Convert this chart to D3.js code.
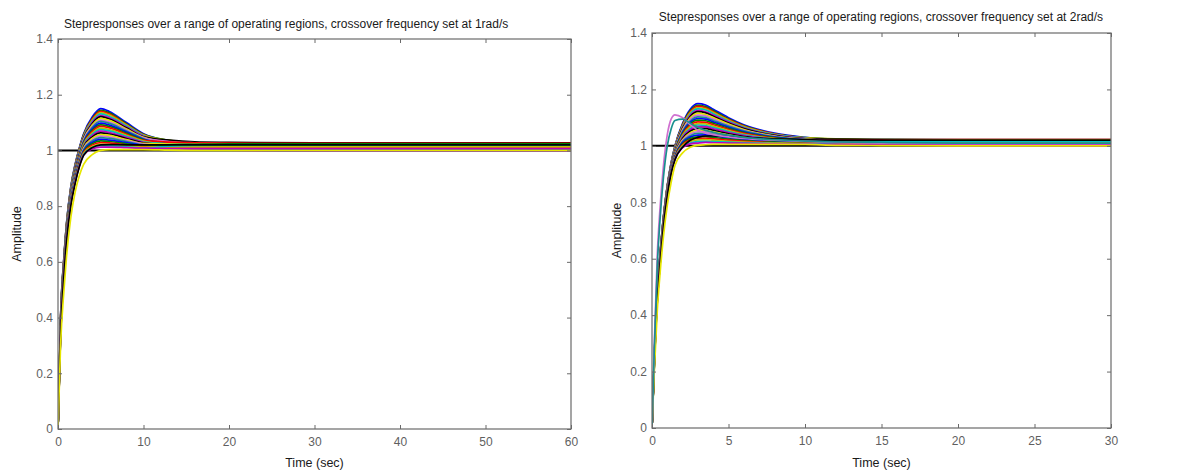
<!DOCTYPE html>
<html>
<head>
<meta charset="utf-8">
<script src="https://cdn.jsdelivr.net/npm/d3@7"></script>
<style>
  body { margin: 0; background: #fff; }
  svg { display: block; font-family: "Liberation Sans", Arial, sans-serif; }
</style>
</head>
<body>
<div id="chart"></div>
<script>
// ---- data ----
// left panel: crossover frequency 1 rad/s, sample times (sec)
var timeLeft = [0, 0.3, 0.7, 1, 1.5, 2, 2.5, 3, 4, 5, 6, 8, 10, 13, 16, 20, 30, 45, 60];
var stepsLeft = [
  [0, .400, .620, .740, .870, .950, 1.010, 1.060, 1.120, 1.150, 1.140, 1.100, 1.060, 1.034, 1.022, 1.015, 1.012, 1.012, 1.012],
  [0, .397, .617, .737, .867, .947, 1.007, 1.057, 1.115, 1.144, 1.135, 1.096, 1.058, 1.036, 1.026, 1.021, 1.018, 1.018, 1.018],
  [0, .395, .615, .735, .865, .945, 1.005, 1.054, 1.112, 1.140, 1.131, 1.093, 1.056, 1.030, 1.018, 1.011, 1.008, 1.008, 1.008],
  [0, .393, .613, .733, .863, .943, 1.003, 1.052, 1.108, 1.136, 1.127, 1.091, 1.055, 1.036, 1.027, 1.022, 1.020, 1.020, 1.020],
  [0, .391, .611, .731, .861, .941, 1.001, 1.050, 1.104, 1.131, 1.122, 1.088, 1.053, 1.026, 1.014, 1.007, 1.004, 1.004, 1.004],
  [0, .388, .608, .728, .858, .938, .998, 1.046, 1.100, 1.125, 1.117, 1.084, 1.051, 1.031, 1.022, 1.018, 1.015, 1.015, 1.015],
  [0, .386, .606, .726, .856, .936, .996, 1.044, 1.096, 1.121, 1.113, 1.081, 1.049, 1.037, 1.031, 1.029, 1.027, 1.027, 1.027],
  [0, .383, .603, .723, .853, .933, .993, 1.041, 1.091, 1.115, 1.108, 1.077, 1.047, 1.027, 1.017, 1.013, 1.010, 1.010, 1.010],
  [0, .380, .600, .720, .850, .930, .990, 1.038, 1.086, 1.109, 1.102, 1.073, 1.045, 1.032, 1.027, 1.024, 1.022, 1.022, 1.022],
  [0, .378, .598, .718, .848, .928, .988, 1.034, 1.082, 1.104, 1.097, 1.070, 1.042, 1.019, 1.009, 1.003, .999, .999, .999],
  [0, .375, .595, .715, .845, .925, .985, 1.031, 1.077, 1.098, 1.091, 1.066, 1.040, 1.027, 1.021, 1.018, 1.016, 1.016, 1.016],
  [0, .372, .592, .712, .842, .922, .982, 1.028, 1.072, 1.092, 1.086, 1.062, 1.038, 1.024, 1.017, 1.014, 1.012, 1.012, 1.012],
  [0, .369, .589, .709, .839, .919, .979, 1.025, 1.067, 1.086, 1.081, 1.058, 1.036, 1.030, 1.027, 1.026, 1.025, 1.025, 1.025],
  [0, .366, .586, .706, .836, .916, .976, 1.022, 1.062, 1.080, 1.075, 1.054, 1.034, 1.019, 1.012, 1.008, 1.006, 1.006, 1.006],
  [0, .364, .584, .704, .834, .914, .974, 1.018, 1.058, 1.075, 1.070, 1.051, 1.031, 1.024, 1.021, 1.020, 1.019, 1.019, 1.019],
  [0, .361, .581, .701, .831, .911, .971, 1.015, 1.053, 1.069, 1.064, 1.047, 1.029, 1.012, 1.005, 1.001, .999, .999, .999],
  [0, .358, .578, .698, .828, .908, .968, 1.012, 1.048, 1.063, 1.059, 1.043, 1.027, 1.020, 1.017, 1.015, 1.014, 1.014, 1.014],
  [0, .355, .575, .695, .825, .905, .965, 1.009, 1.043, 1.057, 1.054, 1.039, 1.025, 1.023, 1.022, 1.021, 1.021, 1.021, 1.021],
  [0, .352, .572, .692, .822, .902, .962, 1.006, 1.038, 1.051, 1.048, 1.035, 1.023, 1.015, 1.012, 1.010, 1.009, 1.009, 1.009],
  [0, .350, .570, .690, .820, .900, .960, 1.002, 1.034, 1.046, 1.043, 1.032, 1.020, 1.018, 1.018, 1.017, 1.017, 1.017, 1.017],
  [0, .347, .567, .687, .817, .897, .957, .999, 1.029, 1.040, 1.037, 1.028, 1.018, 1.010, 1.006, 1.004, 1.003, 1.003, 1.003],
  [0, .344, .564, .684, .814, .894, .954, .996, 1.024, 1.034, 1.032, 1.024, 1.016, 1.020, 1.022, 1.024, 1.024, 1.024, 1.024],
  [0, .341, .561, .681, .811, .891, .951, .993, 1.019, 1.028, 1.027, 1.020, 1.014, 1.012, 1.012, 1.011, 1.011, 1.011, 1.011],
  [0, .338, .558, .678, .808, .888, .948, .990, 1.014, 1.022, 1.021, 1.016, 1.012, 1.013, 1.013, 1.013, 1.013, 1.013, 1.013],
  [0, .336, .556, .676, .806, .886, .946, .986, 1.010, 1.017, 1.016, 1.013, 1.009, 1.015, 1.018, 1.019, 1.020, 1.020, 1.020],
  [0, .334, .554, .674, .804, .884, .944, .984, 1.006, 1.012, 1.012, 1.010, 1.008, 1.007, 1.007, 1.007, 1.007, 1.007, 1.007],
  [0, .331, .551, .671, .801, .881, .941, .982, 1.010, 1.020, 1.021, 1.020, 1.020, 1.020, 1.020, 1.020, 1.020, 1.020, 1.020],
  [0, .300, .500, .620, .760, .850, .910, .950, .985, 1.000, 1.003, 1.003, 1.003, 1.001, 1.000, 1.000, 1.000, 1.000, 1.000]
];

// right panel: crossover frequency 2 rad/s
var timeRight = [0, 0.15, 0.35, 0.5, 0.75, 1, 1.25, 1.5, 2, 2.5, 3, 3.5, 4, 5, 6, 8, 10, 12, 15, 20, 30];
var stepsRight = [
  [0, .250, .500, .600, .750, .860, .940, 1.000, 1.080, 1.130, 1.150, 1.145, 1.130, 1.100, 1.075, 1.045, 1.030, 1.022, 1.016, 1.012, 1.010],
  [0, .249, .498, .598, .748, .858, .938, .998, 1.076, 1.125, 1.144, 1.139, 1.125, 1.096, 1.072, 1.043, 1.029, 1.024, 1.020, 1.017, 1.016],
  [0, .248, .497, .597, .747, .857, .937, .997, 1.074, 1.121, 1.140, 1.135, 1.121, 1.093, 1.070, 1.042, 1.028, 1.019, 1.012, 1.007, 1.005],
  [0, .247, .495, .596, .746, .856, .936, .995, 1.071, 1.117, 1.135, 1.131, 1.118, 1.091, 1.068, 1.041, 1.028, 1.025, 1.022, 1.021, 1.020],
  [0, .246, .494, .595, .745, .855, .935, .994, 1.068, 1.113, 1.131, 1.127, 1.114, 1.088, 1.066, 1.040, 1.027, 1.016, 1.008, 1.001, .999],
  [0, .245, .492, .593, .743, .853, .933, .992, 1.065, 1.108, 1.125, 1.121, 1.109, 1.084, 1.063, 1.038, 1.026, 1.020, 1.016, 1.013, 1.012],
  [0, .244, .490, .592, .742, .852, .932, .990, 1.062, 1.104, 1.121, 1.117, 1.105, 1.081, 1.061, 1.037, 1.025, 1.024, 1.023, 1.022, 1.022],
  [0, .243, .488, .590, .740, .850, .930, .988, 1.058, 1.099, 1.115, 1.111, 1.100, 1.077, 1.058, 1.035, 1.024, 1.018, 1.013, 1.009, 1.008],
  [0, .242, .486, .589, .739, .849, .929, .986, 1.055, 1.094, 1.109, 1.106, 1.095, 1.073, 1.055, 1.034, 1.023, 1.021, 1.020, 1.018, 1.018],
  [0, .240, .484, .587, .737, .847, .927, .984, 1.051, 1.088, 1.103, 1.100, 1.090, 1.070, 1.053, 1.032, 1.022, 1.014, 1.009, 1.005, 1.003],
  [0, .239, .482, .586, .736, .846, .926, .982, 1.048, 1.083, 1.097, 1.095, 1.085, 1.066, 1.050, 1.031, 1.021, 1.018, 1.016, 1.015, 1.014],
  [0, .238, .480, .584, .734, .844, .924, .980, 1.044, 1.078, 1.091, 1.089, 1.080, 1.062, 1.047, 1.029, 1.020, 1.016, 1.013, 1.011, 1.010],
  [0, .237, .478, .582, .732, .842, .922, .978, 1.040, 1.073, 1.085, 1.083, 1.075, 1.058, 1.044, 1.027, 1.019, 1.020, 1.021, 1.022, 1.022],
  [0, .236, .476, .581, .731, .841, .921, .976, 1.037, 1.068, 1.079, 1.078, 1.070, 1.054, 1.041, 1.026, 1.018, 1.013, 1.010, 1.007, 1.006],
  [0, .234, .474, .579, .729, .839, .919, .974, 1.033, 1.062, 1.074, 1.072, 1.065, 1.051, 1.039, 1.024, 1.017, 1.017, 1.016, 1.016, 1.016],
  [0, .233, .472, .578, .728, .838, .918, .972, 1.030, 1.057, 1.068, 1.067, 1.060, 1.047, 1.036, 1.023, 1.016, 1.009, 1.004, 1.000, .999],
  [0, .232, .470, .576, .726, .836, .916, .970, 1.026, 1.052, 1.062, 1.061, 1.055, 1.043, 1.033, 1.021, 1.015, 1.014, 1.013, 1.012, 1.012],
  [0, .231, .468, .574, .724, .834, .914, .968, 1.022, 1.047, 1.056, 1.055, 1.050, 1.039, 1.030, 1.019, 1.014, 1.016, 1.018, 1.020, 1.020],
  [0, .230, .466, .573, .723, .833, .913, .966, 1.019, 1.042, 1.050, 1.050, 1.045, 1.035, 1.027, 1.018, 1.013, 1.011, 1.010, 1.008, 1.008],
  [0, .228, .464, .571, .721, .831, .911, .964, 1.015, 1.036, 1.044, 1.044, 1.040, 1.032, 1.025, 1.016, 1.012, 1.013, 1.014, 1.015, 1.015],
  [0, .227, .462, .570, .720, .830, .910, .962, 1.012, 1.031, 1.038, 1.039, 1.035, 1.028, 1.022, 1.015, 1.011, 1.007, 1.005, 1.003, 1.002],
  [0, .226, .460, .568, .718, .828, .908, .960, 1.008, 1.026, 1.032, 1.033, 1.030, 1.024, 1.019, 1.013, 1.010, 1.013, 1.016, 1.017, 1.018],
  [0, .225, .458, .566, .716, .826, .906, .958, 1.004, 1.021, 1.027, 1.027, 1.025, 1.020, 1.016, 1.011, 1.009, 1.010, 1.010, 1.010, 1.010],
  [0, .224, .456, .565, .715, .825, .905, .956, 1.001, 1.016, 1.021, 1.022, 1.020, 1.016, 1.013, 1.010, 1.008, 1.010, 1.010, 1.011, 1.011],
  [0, .222, .454, .563, .713, .823, .903, .954, .997, 1.010, 1.015, 1.016, 1.015, 1.013, 1.011, 1.008, 1.007, 1.011, 1.014, 1.016, 1.016],
  [0, .222, .452, .562, .712, .822, .902, .952, .994, 1.007, 1.010, 1.012, 1.011, 1.010, 1.009, 1.007, 1.006, 1.005, 1.005, 1.005, 1.005],
  [0, .220, .451, .561, .711, .821, .901, .951, .995, 1.020, 1.030, 1.035, 1.035, 1.034, 1.030, 1.025, 1.022, 1.020, 1.020, 1.020, 1.020],
  [0, .200, .420, .530, .680, .790, .870, .930, .975, .995, 1.002, 1.004, 1.005, 1.005, 1.005, 1.005, 1.005, 1.002, 1.001, 1.000, 1.000],
  [0, .300, .620, .760, .930, 1.040, 1.095, 1.110, 1.100, 1.075, 1.055, 1.045, 1.040, 1.032, 1.026, 1.020, 1.016, 1.013, 1.010, 1.008, 1.008],
  [0, .280, .580, .720, .890, 1.000, 1.060, 1.090, 1.095, 1.080, 1.065, 1.055, 1.048, 1.038, 1.030, 1.022, 1.017, 1.014, 1.012, 1.010, 1.010]
];

var ampTicks = [0, 0.2, 0.4, 0.6, 0.8, 1, 1.2, 1.4];
var timeTicksLeft = [0, 10, 20, 30, 40, 50, 60];
var timeTicksRight = [0, 5, 10, 15, 20, 25, 30];
var setpoint = 1;

var titleLeft = "Stepresponses over a range of operating regions, crossover frequency set at 1rad/s";
var titleRight = "Stepresponses over a range of operating regions, crossover frequency set at 2rad/s";

// line colours cycle like the old MATLAB plot order
var palette = ["#0000ff", "#008000", "#ff0000", "#bfbf00", "#00bfbf", "#bf00bf", "#000000", "#e6e600", "#d070d0", "#1a8f8f"];

var svgWidth = 1193, svgHeight = 473;
var svg = d3.select("#chart").append("svg")
  .attr("width", svgWidth)
  .attr("height", svgHeight);

function drawPanel(opt) {
  var x = d3.scaleLinear().domain([0, opt.tMax]).range([opt.left, opt.right]);
  var y = d3.scaleLinear().domain([0, 1.4]).range([opt.bottom, opt.top]);
  var g = svg.append("g");

  g.append("clipPath").attr("id", opt.id)
    .append("rect")
    .attr("x", opt.left).attr("y", opt.top)
    .attr("width", opt.right - opt.left).attr("height", opt.bottom - opt.top);

  var plot = g.append("g").attr("clip-path", "url(#" + opt.id + ")");

  // setpoint line under the responses
  plot.append("line")
    .attr("x1", x(0)).attr("x2", x(opt.tMax))
    .attr("y1", y(setpoint)).attr("y2", y(setpoint))
    .style("stroke", "#000")
    .style("stroke-width", 2);

  var line = d3.line()
    .x(function(d) { return x(d[0]); })
    .y(function(d) { return y(d[1]); })
    .curve(d3.curveMonotoneX);

  plot.selectAll("path.step")
    .data(opt.steps)
    .enter()
    .append("path")
    .attr("class", "step")
    .attr("d", function(row) { return line(row.map(function(v, i) { return [opt.times[i], v]; })); })
    .style("fill", "none")
    .style("stroke", function(d, i) { return palette[i % palette.length]; })
    .style("stroke-width", 1.7);

  // axes, ticks pointing inward on all four sides
  var axisColor = "#6a6a6a";
  var axes = [
    { a: d3.axisBottom(x).tickValues(opt.xTicks).tickFormat(d3.format("d")).tickPadding(8), t: "translate(0," + opt.bottom + ")" },
    { a: d3.axisTop(x).tickValues(opt.xTicks).tickFormat(""), t: "translate(0," + opt.top + ")" },
    { a: d3.axisLeft(y).tickValues(ampTicks).tickFormat(d3.format("~g")).tickPadding(5), t: "translate(" + opt.left + ",0)" },
    { a: d3.axisRight(y).tickValues(ampTicks).tickFormat(""), t: "translate(" + opt.right + ",0)" }
  ];
  axes.forEach(function(ax) {
    var ag = g.append("g")
      .attr("transform", ax.t)
      .call(ax.a.tickSizeInner(-4).tickSizeOuter(0));
    ag.select(".domain").remove();
    ag.selectAll("line").style("stroke", axisColor);
    ag.selectAll("text")
      .style("fill", "#5f5f5f")
      .style("font-size", "12px")
      .style("font-family", "Liberation Sans, Arial, sans-serif");
  });

  g.append("rect")
    .attr("x", opt.left).attr("y", opt.top)
    .attr("width", opt.right - opt.left).attr("height", opt.bottom - opt.top)
    .style("fill", "none")
    .style("stroke", axisColor)
    .style("stroke-width", 1.2);

  g.append("text")
    .attr("x", opt.titleX)
    .attr("y", opt.titleY)
    .attr("text-anchor", opt.titleAnchor)
    .style("font-size", "12px")
    .style("fill", "#1a1a1a")
    .text(opt.title);

  g.append("text")
    .attr("x", (opt.left + opt.right) / 2)
    .attr("y", 467)
    .attr("text-anchor", "middle")
    .style("font-size", "12.5px")
    .style("fill", "#1a1a1a")
    .text("Time (sec)");

  g.append("text")
    .attr("transform", "translate(" + opt.ampX + "," + ((opt.top + opt.bottom) / 2) + ") rotate(-90)")
    .attr("text-anchor", "middle")
    .style("font-size", "12.5px")
    .style("fill", "#1a1a1a")
    .text("Amplitude");
}

drawPanel({
  id: "clipLeft", times: timeLeft, steps: stepsLeft, tMax: 60, xTicks: timeTicksLeft,
  left: 58, right: 571, top: 39, bottom: 429,
  title: titleLeft, titleX: 64, titleY: 28, titleAnchor: "start", ampX: 21
});

drawPanel({
  id: "clipRight", times: timeRight, steps: stepsRight, tMax: 30, xTicks: timeTicksRight,
  left: 652, right: 1111, top: 33, bottom: 428,
  title: titleRight, titleX: 881, titleY: 21, titleAnchor: "middle", ampX: 621
});
</script>
</body>
</html>
